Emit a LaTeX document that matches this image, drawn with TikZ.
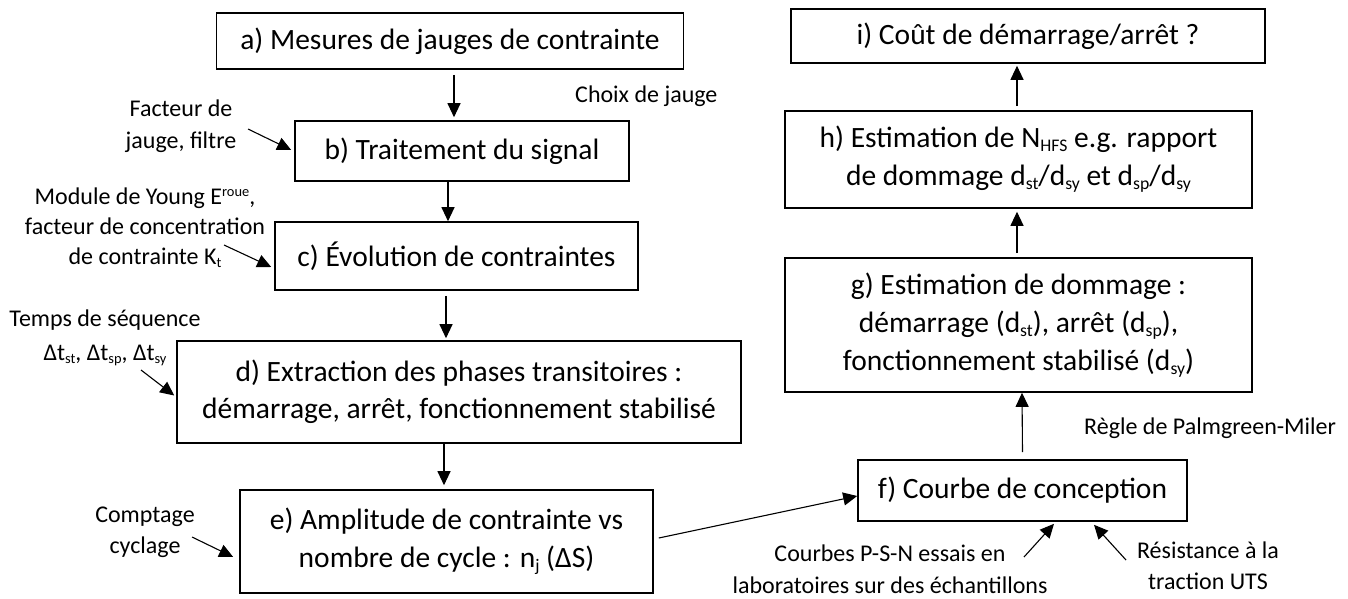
\documentclass[tikz,border=0pt]{standalone}
\usepackage{fontspec}
\setmainfont{Carlito}
\usetikzlibrary{arrows.meta}
\makeatletter
\newcommand\lsub[1]{{\dimen0=\f@size pt\dimen0=0.6\dimen0\raisebox{-0.14em}{\fontsize{\strip@pt\dimen0}{0}\selectfont #1}}}
\newcommand\lsup[1]{{\dimen0=\f@size pt\dimen0=0.6\dimen0\raisebox{0.33em}{\fontsize{\strip@pt\dimen0}{0}\selectfont #1}}}
\makeatother
\tikzset{
  box/.style={draw, line width=1.6pt, inner sep=0pt, align=center, font=\fontsize{29.5}{38}\selectfont},
  lbl/.style={inner sep=0pt, align=center, font=\fontsize{24}{31}\selectfont},
  arr/.style={line width=1.1pt, -{Triangle[length=14pt,width=13pt]}}
}
\begin{document}
\begin{tikzpicture}[x=1pt,y=-1pt]
\useasboundingbox[fill=white] (0,0) rectangle (1348,599);
% boxes
\node[box, minimum width=467pt, minimum height=56pt] (a) at (450,41) {a) Mesures de jauges de contrainte};
\node[box, minimum width=334pt, minimum height=60pt] (b) at (462,151) {b) Traitement du signal};
\node[box, minimum width=363pt, minimum height=68pt] (c) at (456.5,256) {c) Évolution de contraintes};
\node[box, minimum width=564pt, minimum height=102pt, font=\fontsize{29.5}{37}\selectfont] (d) at (459,392) {d) Extraction des phases transitoires :\\démarrage, arrêt, fonctionnement stabilisé};
\node[box, minimum width=413pt, minimum height=103pt] (e) at (446.5,541.5) {e) Amplitude de contrainte vs\\nombre de cycle : n\lsub{j} (ΔS)};
\node[box, minimum width=329pt, minimum height=61pt] (f) at (1022.5,490.5) {f) Courbe de conception};
\node[box, minimum width=467pt, minimum height=134pt] (g) at (1018.5,325) {g) Estimation de dommage :\\démarrage (d\lsub{st}), arrêt (d\lsub{sp}),\\fonctionnement stabilisé (d\lsub{sy})};
\node[box, minimum width=467pt, minimum height=97pt] (h) at (1018.5,159.5) {h) Estimation de N\lsub{HFS} e.g. rapport\\de dommage d\lsub{st}/d\lsub{sy} et d\lsub{sp}/d\lsub{sy}};
\node[box, minimum width=474pt, minimum height=54pt] (i) at (1028,36) {i) Coût de démarrage/arrêt ?};
% labels
\node[lbl, anchor=west] (choix) at (575,96) {Choix de jauge};
\node[lbl, font=\fontsize{24}{32}\selectfont] (fac) at (181,126) {Facteur de\\jauge, filtre};
\node[lbl, font=\fontsize{24}{30}\selectfont] (mod) at (145,228) {Module de Young E\lsup{roue},\\facteur de concentration\\de contrainte K\lsub{t}};
\node[lbl, font=\fontsize{24}{34}\selectfont] (temps) at (105,338) {Temps de séquence\\Δt\lsub{st}, Δt\lsub{sp}, Δt\lsub{sy}};
\node[lbl] (compt) at (145,532) {Comptage\\cyclage};
\node[lbl, anchor=west] (regle) at (1084,428) {Règle de Palmgreen-Miler};
\node[lbl, font=\fontsize{24}{32}\selectfont] (psn) at (890,569) {Courbes P-S-N essais en\\laboratoires sur des échantillons};
\node[lbl] (uts) at (1208,566) {Résistance à la\\traction UTS};
% tails of side arrows
\coordinate (tb) at (248,129);
\coordinate (tc) at (224,245);
\coordinate (td) at (141,370);
\coordinate (te) at (192,537);
\coordinate (tp) at (1024,557);
\coordinate (tu) at (1126,560);
% main flow
\draw[arr] ([xshift=4pt,yshift=-5pt]a.south) -- ([xshift=-8pt,yshift=3pt]b.north);
\draw[arr] ([xshift=-14pt]b.south) -- ([xshift=-8.5pt]c.north);
\draw[arr] ([xshift=-10.5pt,yshift=-5pt]c.south) -- ([xshift=-13pt,yshift=2pt]d.north);
\draw[arr] ([xshift=-15pt]d.south) -- ([xshift=-2.5pt,yshift=4pt]e.north);
\draw[arr] ([xshift=5pt,yshift=3.5pt]e.east) -- ([yshift=-5.5pt]f.west);
\draw[arr] ([yshift=7pt]f.north) -- ([xshift=3.5pt]g.south);
\draw[arr] ([xshift=-1.5pt,yshift=4pt]g.north) -- ([xshift=-1.5pt,yshift=-3pt]h.south);
\draw[arr] ([xshift=-1.5pt,yshift=4pt]h.north) -- ([xshift=-11pt,yshift=-2pt]i.south);
% side inputs
\draw[arr] (tb) -- ([xshift=-3pt,yshift=1pt]b.west);
\draw[arr] (tc) -- ([xshift=-3pt,yshift=-11pt]c.west);
\draw[arr] (td) -- ([xshift=-2pt,yshift=-3.5pt]d.west);
\draw[arr] (te) -- ([xshift=-6pt,yshift=-15.5pt]e.west);
\draw[arr] (tp) -- ([xshift=31.5pt,yshift=-2pt]f.south);
\draw[arr] (tu) -- ([xshift=71.5pt,yshift=-3pt]f.south);
\end{tikzpicture}
\end{document}
